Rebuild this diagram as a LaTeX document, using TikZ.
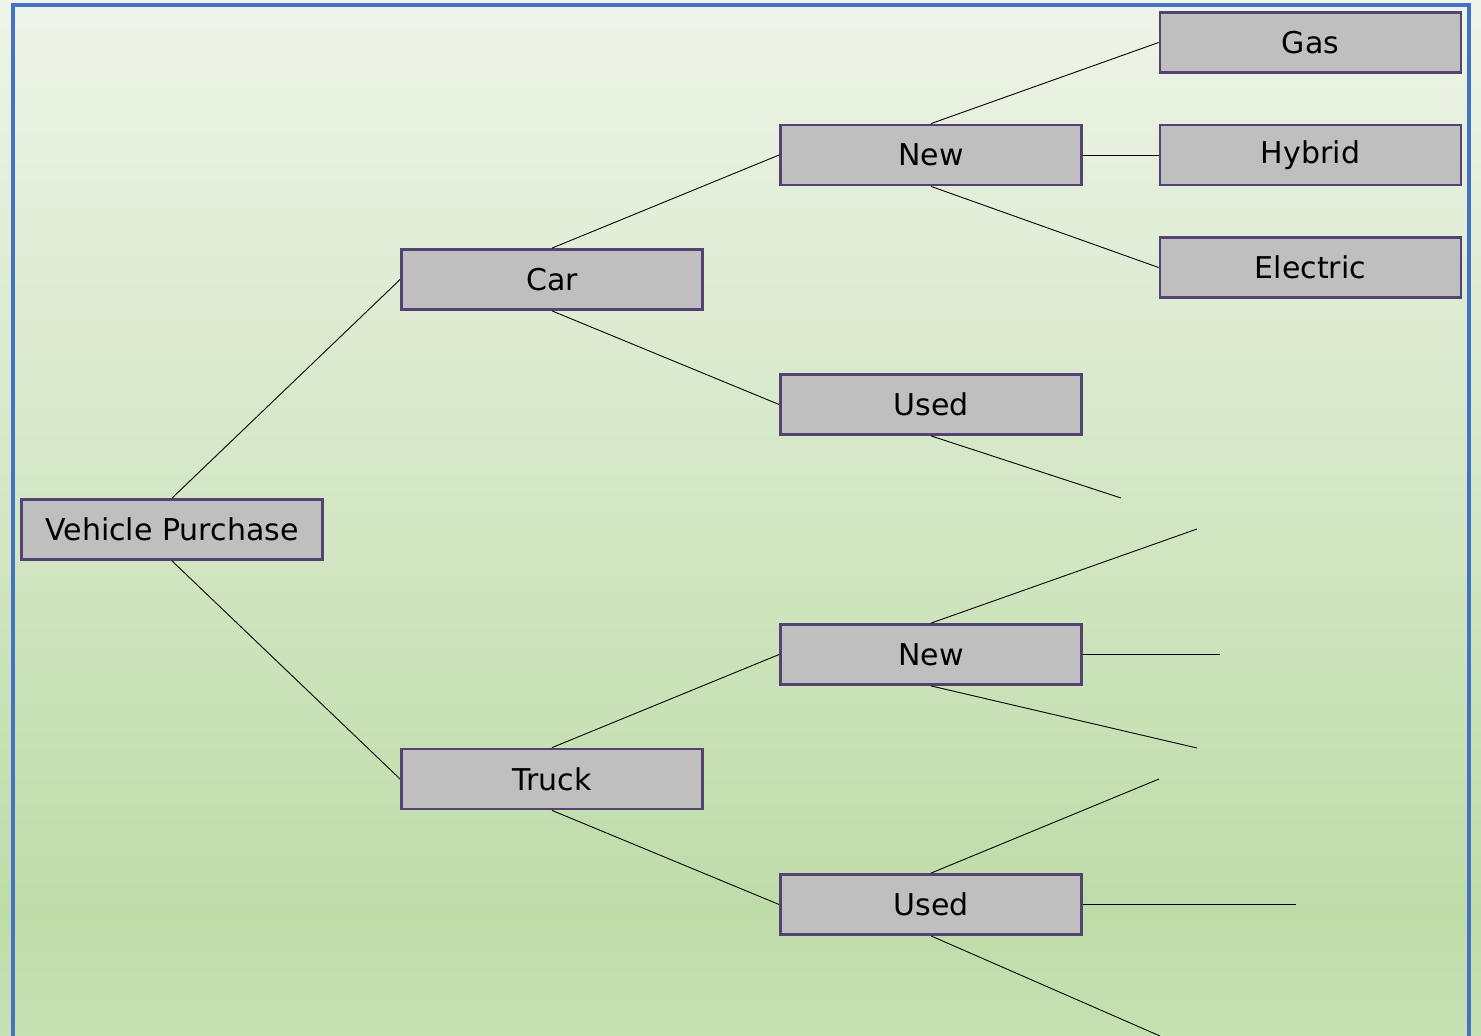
\documentclass[tikz,border=0pt]{standalone}
\usepackage{fontspec}
\setmainfont{DejaVu Sans}
\begin{document}
\begin{tikzpicture}[x=1pt,y=-1pt,
  box/.style={draw=boxline,line width=2.8pt,fill=boxfill,minimum width=301pt,minimum height=60pt,
    inner sep=0pt,font=\fontsize{30}{35}\selectfont,text=black},
  conn/.style={draw=black,line width=0.9pt}]
\definecolor{boxfill}{HTML}{BFBFBF}
\definecolor{boxline}{HTML}{544372}
\definecolor{frameblue}{HTML}{4472C4}
\definecolor{bgtop}{HTML}{EEF4E8}
\definecolor{bgmid}{HTML}{BEDCA8}
\definecolor{bgbot}{HTML}{C6E1B2}
\useasboundingbox (0,0) rectangle (1481,1036);
\shade[top color=bgtop,bottom color=bgmid] (0,0) rectangle (1481,911);
\shade[top color=bgmid,bottom color=bgbot] (0,910) rectangle (1481,1036);
\draw[frameblue,line width=4pt] (13,1040) -- (13,5) -- (1469,5) -- (1469,1040);
% nodes
\node[box] (vp) at (172,529.5) {Vehicle Purchase};
\node[box] (car) at (552,279.5) {Car};
\node[box] (truck) at (552,779) {Truck};
\node[box] (cnew) at (931,155) {New};
\node[box] (cused) at (931,404.5) {Used};
\node[box] (tnew) at (931,654.5) {New};
\node[box] (tused) at (931,904.5) {Used};
\node[box] (gas) at (1310.5,42.5) {Gas};
\node[box] (hyb) at (1310.5,155) {Hybrid};
\node[box] (elec) at (1310.5,267.5) {Electric};
% free ends
\coordinate (e1) at (1121,498);
\coordinate (e2) at (1197,529);
\coordinate (e3) at (1220,654.5);
\coordinate (e4) at (1197,748);
\coordinate (e5) at (1159,779);
\coordinate (e6) at (1296,904.5);
\coordinate (e7) at (1160,1036);
% connectors
\draw[conn] (vp.north) -- (car.west);
\draw[conn] (vp.south) -- (truck.west);
\draw[conn] (car.north) -- (cnew.west);
\draw[conn] (car.south) -- (cused.west);
\draw[conn] (truck.north) -- (tnew.west);
\draw[conn] (truck.south) -- (tused.west);
\draw[conn] (cnew.north) -- (gas.west);
\draw[conn] (cnew.east) -- (hyb.west);
\draw[conn] (cnew.south) -- (elec.west);
\draw[conn] (cused.south) -- (e1);
\draw[conn] (tnew.north) -- (e2);
\draw[conn] (tnew.east) -- (e3);
\draw[conn] (tnew.south) -- (e4);
\draw[conn] (tused.north) -- (e5);
\draw[conn] (tused.east) -- (e6);
\draw[conn] (tused.south) -- (e7);
\end{tikzpicture}
\end{document}
